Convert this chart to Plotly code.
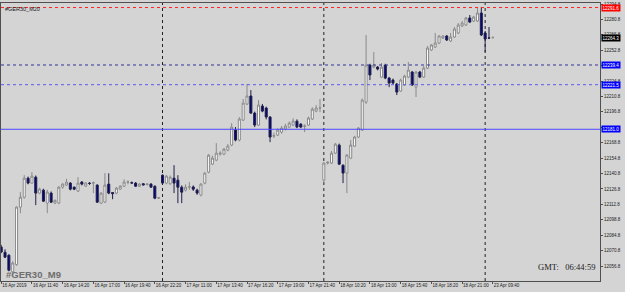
import plotly.graph_objects as go

# ---- data (bar index, OHLC) ----
opens = [12074.0,12069.3,12066.6,12051.5,12058.0,12110.3,12119.3,12136.6,12132.1,12137.5,
         12123.0,12125.7,12113.9,12123.0,12114.0,12114.0,12128.4,12130.3,12132.1,12128.4,
         12124.8,12133.0,12129.3,12132.0,12132.1,12130.3,12113.9,12114.8,12131.2,12123.5,
         12123.0,12126.6,12129.3,12133.0,12132.5,12132.1,12129.3,12131.5,12130.8,12131.2,
         12129.3,12118.4,12139.3,12132.1,12131.5,12136.6,12134.8,12128.4,12125.7,12128.4,
         12128.6,12125.7,12121.2,12132.1,12142.1,12149.3,12153.0,12158.4,12158.4,12162.1,
         12166.6,12180.3,12171.2,12189.3,12203.9,12211.2,12195.7,12184.8,12202.1,12200.3,
         12192.1,12174.8,12175.7,12178.4,12181.2,12183.0,12184.8,12188.4,12185.7,12183.5,
         12184.8,12190.3,12197.5,12200.3,12134.8,12150.3,12150.3,12159.3,12166.6,12148.4,
         12141.2,12154.8,12165.7,12173.9,12180.3,12205.7,12239.3,12237.5,12237.5,12228.4,
         12239.3,12227.5,12225.7,12222.1,12215.7,12221.2,12228.4,12233.0,12219.3,12233.0,
         12228.4,12236.6,12253.0,12255.7,12259.3,12263.9,12265.7,12261.2,12264.8,12268.4,
         12274.8,12275.7,12282.1,12279.3,12279.3,12286.6,12268.4,12264.0,12264.3]
highs = [12076.0,12072.0,12067.5,12061.0,12111.0,12123.9,12139.3,12138.0,12142.1,12139.0,
         12128.0,12127.0,12126.0,12124.5,12117.0,12129.5,12132.0,12136.0,12133.0,12129.0,
         12137.5,12134.0,12133.0,12133.0,12133.5,12131.0,12124.0,12141.2,12141.0,12124.0,
         12128.5,12130.0,12135.5,12134.5,12133.5,12133.0,12132.0,12132.0,12132.0,12132.0,
         12130.0,12119.5,12140.0,12139.5,12139.0,12148.4,12139.3,12130.0,12131.0,12133.0,
         12130.0,12127.0,12132.0,12142.0,12158.5,12157.0,12168.4,12161.0,12164.0,12167.5,
         12186.6,12183.0,12192.0,12208.5,12222.1,12216.6,12197.0,12207.5,12204.0,12201.5,
         12193.0,12178.0,12182.0,12184.0,12186.0,12188.0,12191.0,12190.0,12186.5,12185.5,
         12192.5,12201.0,12203.0,12208.5,12151.0,12152.0,12161.2,12168.5,12168.0,12149.0,
         12158.5,12171.2,12175.0,12183.0,12209.0,12266.6,12240.5,12251.2,12238.5,12241.2,
         12240.5,12228.5,12227.0,12223.0,12227.0,12230.5,12242.1,12234.0,12234.0,12234.0,
         12238.4,12256.6,12258.4,12268.4,12266.6,12266.6,12266.6,12268.4,12273.9,12277.5,
         12279.3,12283.0,12284.8,12284.0,12291.2,12292.1,12270.3,12273.9,12265.5]
lows = [12068.5,12064.0,12052.0,12049.0,12057.0,12104.8,12118.0,12131.0,12131.5,12112.1,
        12122.0,12115.0,12104.8,12114.0,12113.0,12113.0,12127.0,12129.5,12125.5,12125.7,
        12124.0,12130.0,12128.5,12130.5,12123.0,12114.0,12113.0,12114.0,12122.0,12117.5,
        12122.0,12126.0,12128.5,12131.0,12131.5,12128.5,12128.5,12130.0,12130.0,12128.0,
        12117.5,12117.8,12131.0,12131.0,12130.5,12123.0,12113.9,12113.9,12124.5,12126.0,
        12125.0,12121.5,12120.0,12131.0,12141.0,12148.5,12152.0,12157.0,12157.5,12161.0,
        12165.7,12170.0,12170.0,12188.5,12203.0,12195.0,12183.0,12184.0,12196.5,12190.0,
        12169.3,12173.0,12175.0,12177.0,12180.0,12182.0,12184.0,12182.0,12182.0,12178.4,
        12184.0,12189.5,12196.5,12196.6,12132.1,12149.0,12149.5,12158.5,12148.5,12132.1,
        12123.0,12154.0,12165.0,12173.0,12179.5,12204.0,12225.7,12236.5,12234.5,12227.5,
        12226.5,12219.3,12222.0,12212.1,12215.0,12220.5,12227.5,12220.5,12210.3,12227.5,
        12227.5,12235.7,12252.1,12254.8,12258.4,12263.0,12261.2,12260.3,12263.9,12267.5,
        12273.9,12274.8,12277.5,12278.4,12278.4,12265.7,12251.2,12263.0,12263.5]
closes = [12069.5,12064.8,12053.0,12059.5,12110.3,12119.3,12136.6,12132.1,12138.4,12123.0,
          12126.6,12115.7,12123.9,12114.8,12116.5,12128.4,12131.2,12133.0,12126.6,12126.6,
          12132.1,12131.2,12132.1,12131.8,12132.4,12114.8,12123.0,12130.3,12123.0,12122.5,
          12127.5,12129.3,12133.0,12133.2,12132.2,12129.3,12131.2,12130.5,12131.2,12128.4,
          12118.4,12118.8,12132.1,12138.4,12137.5,12132.1,12128.4,12123.9,12128.4,12128.7,
          12126.6,12123.0,12131.2,12141.2,12157.5,12154.8,12159.3,12159.3,12163.0,12165.7,
          12183.0,12171.2,12190.3,12204.8,12211.2,12195.7,12184.8,12203.0,12197.5,12192.1,
          12173.9,12175.2,12180.3,12182.1,12183.9,12186.6,12188.4,12183.0,12183.0,12184.0,
          12191.2,12199.3,12200.3,12200.5,12150.3,12151.0,12159.3,12167.5,12149.3,12141.2,
          12157.5,12166.6,12173.9,12182.1,12207.5,12239.3,12230.3,12239.3,12235.7,12237.5,
          12227.5,12223.0,12223.0,12214.8,12225.7,12229.3,12234.8,12221.2,12233.0,12228.4,
          12236.6,12254.8,12257.5,12259.3,12265.7,12265.7,12262.1,12264.8,12272.1,12275.7,
          12277.5,12282.1,12278.4,12283.0,12286.6,12266.6,12263.0,12263.8,12264.3]
bar_idx = list(range(len(opens)))

x_tick_idx = [0, 8, 16, 24, 32, 40, 48, 56, 64, 72, 80, 88, 96, 104, 112, 120, 128]
x_tick_text = ["16 Apr 2019", "16 Apr 11:40", "16 Apr 14:20", "16 Apr 17:00", "16 Apr 19:40",
               "16 Apr 22:20", "17 Apr 11:00", "17 Apr 13:40", "17 Apr 16:20", "17 Apr 19:00",
               "17 Apr 21:40", "18 Apr 10:20", "18 Apr 13:00", "18 Apr 15:40", "18 Apr 18:20",
               "18 Apr 21:00", "23 Apr 09:40"]
y_ticks = [12056.8, 12070.8, 12084.8, 12098.8, 12112.8, 12126.8, 12140.8, 12154.8, 12168.8,
           12182.8, 12196.8, 12210.8, 12224.8, 12238.8, 12252.8, 12266.8, 12280.8, 12294.8]
day_start_idx = [42, 84, 126]

red_level = 12291.6
bid_level = 12264.3
blue_dot_level1 = 12239.4
blue_dot_level2 = 12221.5
blue_solid_level = 12181.0

# tick labels fully hidden under a price box in the reference are left blank
covered = {12238.8, 12182.8}

BG = "#d4d4d4"
fig = go.Figure(go.Candlestick(
    x=bar_idx, open=opens, high=highs, low=lows, close=closes,
    increasing=dict(fillcolor="#ffffff", line=dict(color="#8a8a8a", width=1)),
    decreasing=dict(fillcolor="#000080", line=dict(color="#20204a", width=1)),
    whiskerwidth=0, hoverinfo="skip", showlegend=False))

shapes = []
for d in day_start_idx:
    shapes.append(dict(type="line", xref="x", yref="paper", x0=d, x1=d, y0=0, y1=1,
                       line=dict(color="#222222", width=1, dash="dot"), layer="below"))
shapes.append(dict(type="line", xref="paper", x0=0, x1=1, y0=red_level, y1=red_level,
                   line=dict(color="#ff2020", width=1, dash="dot")))
shapes.append(dict(type="line", xref="paper", x0=0, x1=1, y0=blue_dot_level1, y1=blue_dot_level1,
                   line=dict(color="#33339a", width=1, dash="dot")))
shapes.append(dict(type="line", xref="paper", x0=0, x1=1, y0=blue_dot_level2, y1=blue_dot_level2,
                   line=dict(color="#5a5aee", width=1, dash="dot")))
shapes.append(dict(type="line", xref="paper", x0=0, x1=1, y0=blue_solid_level, y1=blue_solid_level,
                   line=dict(color="#4a4aff", width=1)))

def price_box(level, bg):
    return dict(xref="paper", yref="y", x=1, y=level, xanchor="left", yanchor="middle",
                xshift=1, text=f"{level:.1f}", showarrow=False, bgcolor=bg, borderpad=0.5,
                font=dict(family="Liberation Sans", size=4.5, color="#ffffff"))

annotations = [
    price_box(red_level, "#ff0000"),
    price_box(bid_level, "#000000"),
    price_box(blue_dot_level1, "#0000ff"),
    price_box(blue_dot_level2, "#0000ff"),
    price_box(blue_solid_level, "#0000ff"),
    dict(xref="paper", yref="paper", x=0, y=1, xanchor="left", yanchor="top", xshift=2, yshift=-1,
         text="#GER30_M20", showarrow=False,
         font=dict(family="Liberation Sans", size=5.5, color="#222222")),
    dict(xref="paper", yref="paper", x=0, y=0.022, xanchor="left", yanchor="middle", xshift=3,
         text="<b>#GER30_M9</b>", showarrow=False,
         font=dict(family="Liberation Sans", size=9.5, color="#6e6e6e")),
    dict(xref="paper", yref="paper", x=1, y=0.052, xanchor="right", yanchor="middle", xshift=-3,
         text="GMT:\u00a0\u00a0 06:44:59", showarrow=False,
         font=dict(family="Liberation Serif", size=8.5, color="#1a1a1a")),
]

fig.update_layout(
    width=625, height=292,
    margin=dict(l=1, r=25, t=3, b=11, pad=0, autoexpand=False),
    paper_bgcolor=BG, plot_bgcolor=BG,
    boxgap=0.3, boxgroupgap=0.25,
    shapes=shapes, annotations=annotations,
    xaxis=dict(range=[-0.05, 155.9], rangeslider=dict(visible=False), showgrid=False,
               zeroline=False, showline=True, mirror=True, linecolor="#505050", linewidth=1,
               tickmode="array", tickvals=x_tick_idx, ticktext=x_tick_text,
               ticks="outside", ticklen=2, tickcolor="#505050", tickangle=0, automargin=False,
               ticklabelposition="outside right",
               tickfont=dict(family="Liberation Sans", size=4.5, color="#222222")),
    yaxis=dict(side="right", range=[12043.17, 12295.71], showgrid=False, zeroline=False,
               showline=True, mirror=True, linecolor="#505050", linewidth=1, automargin=False,
               tickmode="array", tickvals=y_ticks,
               ticktext=["" if v in covered else f"{v:.1f}" for v in y_ticks],
               ticks="outside", ticklen=2, tickcolor="#505050",
               tickfont=dict(family="Liberation Sans", size=4.5, color="#222222")),
)

fig.write_html("out.html")
